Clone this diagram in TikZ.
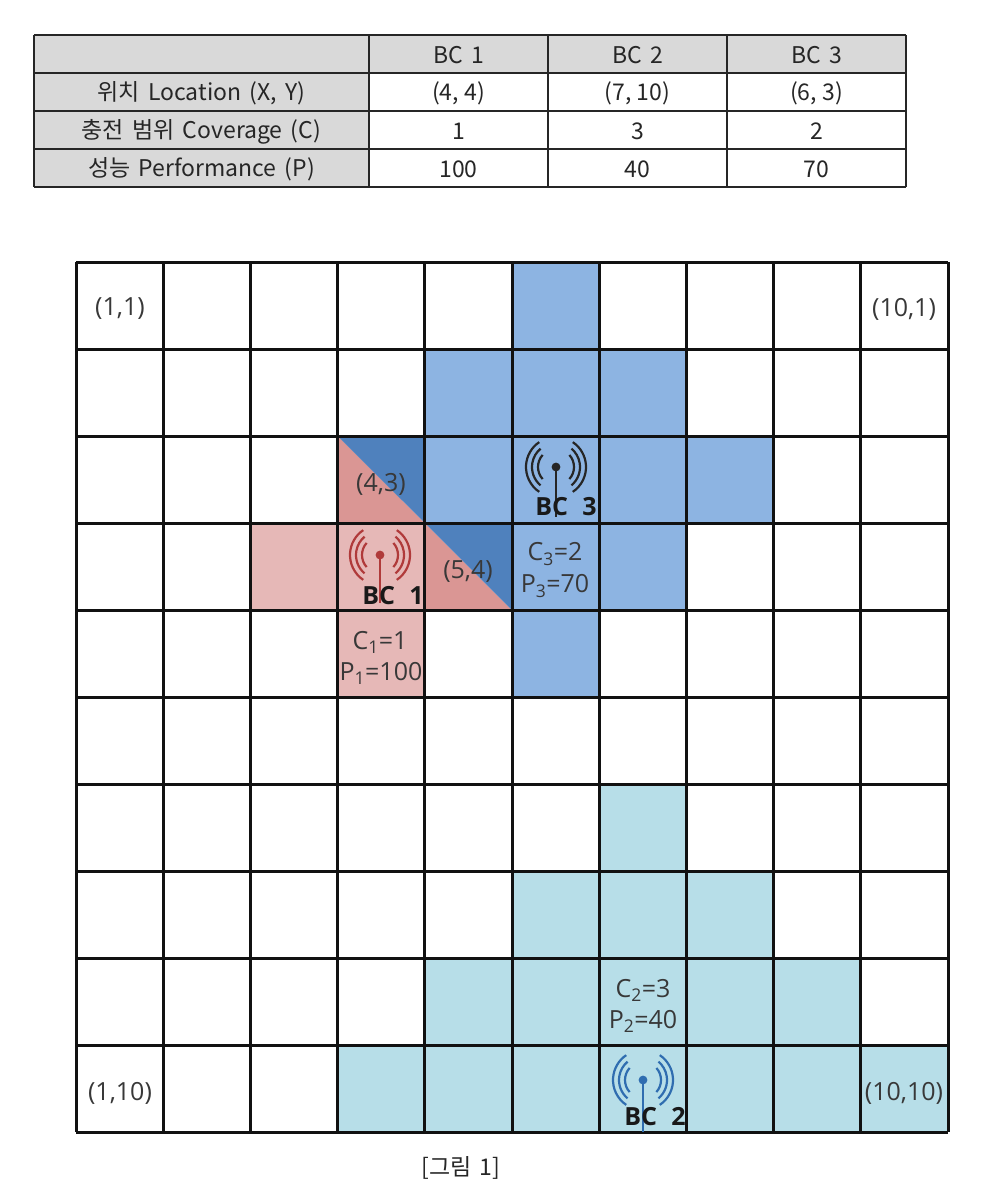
\documentclass[tikz,border=0pt]{standalone}
\usepackage{fontspec}
\setmainfont{Noto Sans CJK KR}
\newfontfamily\gridfont{Open Sans}
\newfontfamily\widefont[WordSpace=1.6]{Noto Sans CJK KR}
\newfontfamily\bcfont[WordSpace=2.2]{Open Sans}
\definecolor{tblgray}{HTML}{D9D9D9}
\definecolor{pinkL}{HTML}{E6B8B7}
\definecolor{pinkM}{HTML}{DA9694}
\definecolor{blueL}{HTML}{8DB4E2}
\definecolor{blueD}{HTML}{4F81BD}
\definecolor{cyanL}{HTML}{B7DEE8}
\definecolor{gridink}{HTML}{111111}
\definecolor{labelink}{HTML}{383838}
\definecolor{redant}{HTML}{B03A3A}
\definecolor{blueant}{HTML}{2F6DB0}
\newcommand{\cx}[1]{{76+87.2*(#1-1)}}
\newcommand{\cy}[1]{{262+87*(#1-1)}}
\newcommand{\cellfill}[3]{\fill[#1] (\cx{#2},\cy{#3}) rectangle (\cx{#2+1},\cy{#3+1});}
\newcommand{\trifill}[2]{%
  \fill[pinkM] (\cx{#1},\cy{#2}) -- (\cx{#1+1},\cy{#2+1}) -- (\cx{#1},\cy{#2+1}) -- cycle;
  \fill[blueD] (\cx{#1},\cy{#2}) -- (\cx{#1+1},\cy{#2+1}) -- (\cx{#1+1},\cy{#2}) -- cycle;}
\newcommand{\antenna}[4]{% x, y, mast end y, colour
  \fill[#4] (#1,#2) circle (4.4);
  \draw[#4,line width=2.6pt] (#1,#2) -- (#1,#3);
  \foreach \r/\a in {18/42,24/50,30/56}{
    \draw[#4,line width=2.2pt] ({#1+\r*cos(\a)},{#2+\r*sin(\a)}) arc[start angle=\a,end angle=-\a,radius=\r];
    \draw[#4,line width=2.2pt] ({#1-\r*cos(\a)},{#2+\r*sin(\a)}) arc[start angle=180-\a,end angle=180+\a,radius=\r];
  }}
\tikzset{
  x=1pt,y=-1pt,
  tablecell/.style={font=\fontsize{23}{26}\selectfont,text=black!85,inner sep=0pt,anchor=center},
  rowcell/.style={font=\widefont\fontsize{23}{26}\selectfont,text=black!85,inner sep=0pt,anchor=center},
  gridlabel/.style={font=\gridfont\fontsize{25}{27}\selectfont,text=labelink,inner sep=0pt,anchor=center},
  bclabel/.style={font=\bcfont\bfseries\fontsize{25}{28}\selectfont,text=black!90,inner sep=0pt,anchor=center},
  tableline/.style={draw=black!85,line width=2.6pt},
  gridline/.style={draw=gridink,line width=3pt}
}
\begin{document}
\begin{tikzpicture}
\useasboundingbox (0,0) rectangle (991,1201);
% table
\fill[tblgray] (34,35) rectangle (369,187);
\fill[tblgray] (369,35) rectangle (906,73);
\foreach \yy in {35,73,111,149,187} \draw[tableline] (34,\yy) -- (906,\yy);
\foreach \xx in {34,369,548,727,906} \draw[tableline] (\xx,35) -- (\xx,187);
\node[rowcell] (h1) at (459,55) {BC 1};
\node[rowcell] (h2) at (638,55) {BC 2};
\node[rowcell] (h3) at (817,55) {BC 3};
\node[rowcell] (r1) at (201.5,93.5) {위치 Location (X, Y)};
\node[rowcell] (r2) at (201.5,131.5) {충전 범위 Coverage (C)};
\node[rowcell] (r3) at (201.5,169.5) {성능 Performance (P)};
\node[tablecell] (a1) at (458.5,93.5) {(4, 4)};
\node[tablecell] (a2) at (637.5,93.5) {(7, 10)};
\node[tablecell] (a3) at (816.5,93.5) {(6, 3)};
\node[tablecell] (b1) at (458.5,131.5) {1};
\node[tablecell] (b2) at (637.5,131.5) {3};
\node[tablecell] (b3) at (816.5,131.5) {2};
\node[tablecell] (c1) at (458.5,169.5) {100};
\node[tablecell] (c2) at (637.5,169.5) {40};
\node[tablecell] (c3) at (816.5,169.5) {70};
% coverage cells
\foreach \i/\j in {6/1,5/2,6/2,7/2,5/3,6/3,7/3,8/3,6/4,7/4,6/5} {\cellfill{blueL}{\i}{\j}}
\foreach \i/\j in {3/4,4/4,4/5} {\cellfill{pinkL}{\i}{\j}}
\foreach \i/\j in {7/7,6/8,7/8,8/8,5/9,6/9,7/9,8/9,9/9,4/10,5/10,6/10,7/10,8/10,9/10,10/10} {\cellfill{cyanL}{\i}{\j}}
\trifill{4}{3}
\trifill{5}{4}
% grid
\foreach \k in {1,...,11} {
  \draw[gridline] (\cx{\k},262) -- (\cx{\k},1132);
  \draw[gridline] (76,\cy{\k}) -- (948,\cy{\k});
}
% antennas
\antenna{380}{555}{603}{redant}
\antenna{556}{467}{517}{black!85}
\antenna{643}{1080}{1132}{blueant}
\node[bclabel] (bc1) at (393,596) {BC 1};
\node[bclabel] (bc3) at (566,507) {BC 3};
\node[bclabel] (bc2) at (655,1117) {BC 2};
% labels
\node[gridlabel] (l11) at (120,309) {(1,1)};
\node[gridlabel] (l101) at (904,309) {(10,1)};
\node[gridlabel] (l110) at (120,1093) {(1,10)};
\node[gridlabel] (l1010) at (904,1093) {(10,10)};
\node[gridlabel] (l43) at (381,484) {(4,3)};
\node[gridlabel] (l54) at (468,571) {(5,4)};
\node[gridlabel] (c1v) at (380,642) {C\textsubscript{1}=1};
\node[gridlabel] (p1v) at (381,673) {P\textsubscript{1}=100};
\node[gridlabel] (c3v) at (555,554) {C\textsubscript{3}=2};
\node[gridlabel] (p3v) at (555,586) {P\textsubscript{3}=70};
\node[gridlabel] (c2v) at (643,990) {C\textsubscript{2}=3};
\node[gridlabel] (p2v) at (643,1021) {P\textsubscript{2}=40};
\node[rowcell] (caption) at (461,1167.5) {[그림 1]};
\end{tikzpicture}
\end{document}
